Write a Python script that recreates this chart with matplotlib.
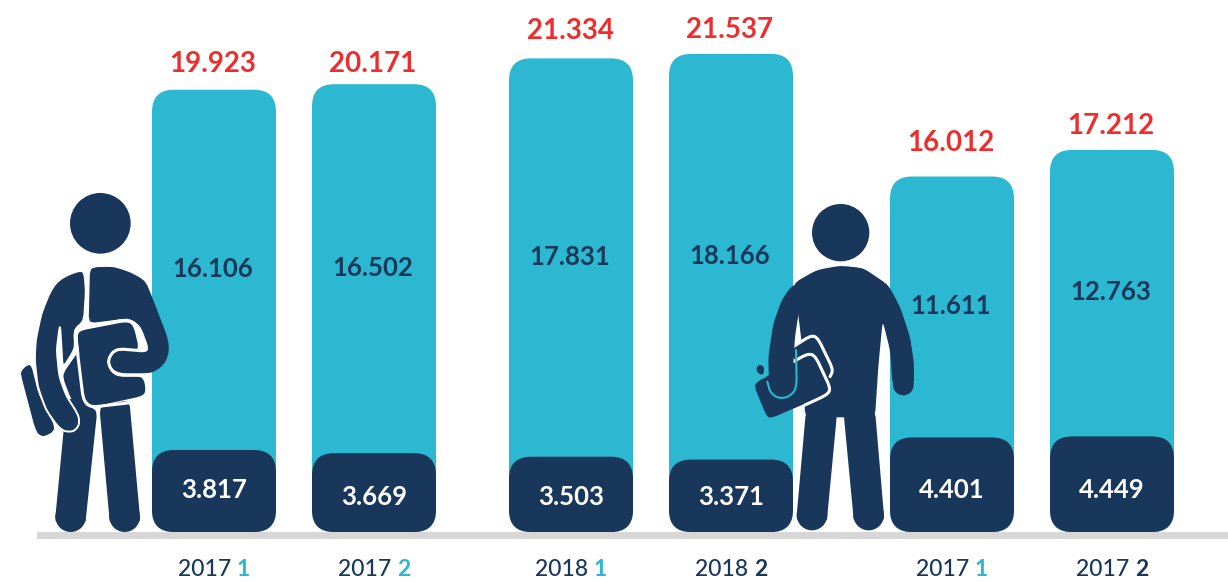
import matplotlib as mpl
mpl.use('Agg')
import matplotlib.pyplot as plt
from matplotlib.patches import FancyBboxPatch, Polygon, Circle
import math

plt.rcParams['font.family'] = ['Lato', 'DejaVu Sans']

years = ['2017', '2017', '2018', '2018', '2017', '2017']
terms = ['1', '2', '1', '2', '1', '2']
totals = [19923, 20171, 21334, 21537, 16012, 17212]
upper = [16106, 16502, 17831, 18166, 11611, 12763]
lower = [3817, 3669, 3503, 3371, 4401, 4449]
total_labels = ['19.923', '20.171', '21.334', '21.537', '16.012', '17.212']
upper_labels = ['16.106', '16.502', '17.831', '18.166', '11.611', '12.763']
lower_labels = ['3.817', '3.669', '3.503', '3.371', '4.401', '4.449']

bar_left = [152, 312, 509, 669, 890, 1050]
term_teal = [True, True, True, False, True, False]
total_gap = [26, 20, 27, 24, 34, 24]  # px between bar top and red label
lower_lift = [42, 35, 35, 35, 42, 42]  # px of the white label above the base
bar_w = 124

TEAL = '#2BB8D0'
NAVY = '#19375A'
RED = '#EC2F2E'
GREY = '#D7D7D7'

W, H = 1228, 582
BASE = 532
PX = 0.0222  # pixels per unit for the big bars
LOW_SCALE = 0.968  # dark blocks are drawn a bit shorter in the original

fig = plt.figure(figsize=(W/100, H/100), dpi=100)
ax = fig.add_axes([0, 0, 1, 1])
ax.set_xlim(0, W)
ax.set_ylim(-(H-BASE)/PX, BASE/PX)
ax.axis('off')


def rounded(x, h, color, z):
    b = FancyBboxPatch((x, 0), bar_w, h,
                       boxstyle='round,pad=0,rounding_size=22',
                       mutation_aspect=1/PX, fc=color, ec='none', zorder=z)
    ax.add_patch(b)


for i in range(6):
    x = bar_left[i]
    cx = x + bar_w/2
    low = lower[i]*LOW_SCALE
    rounded(x, totals[i], TEAL, 2)
    rounded(x, low, NAVY, 3)
    ax.text(cx - 1, totals[i] + total_gap[i]/PX, total_labels[i], color=RED, fontsize=20,
            fontweight='bold', ha='center', va='center')
    ax.text(cx - 1, (totals[i]+low)/2 + 1/PX, upper_labels[i], color=NAVY, fontsize=18.5,
            fontweight='bold', ha='center', va='center')
    ax.text(cx, lower_lift[i]/PX, lower_labels[i], color='white', fontsize=18.5,
            fontweight='bold', ha='center', va='center')
    ax.text(cx + 17, -(570-BASE)/PX, years[i], color=NAVY, fontsize=16.5,
            fontweight='medium', ha='right', va='center')
    ax.text(cx + 23, -(570-BASE)/PX, terms[i], color=TEAL if term_teal[i] else NAVY,
            fontsize=16.5, fontweight='bold', ha='left', va='center')

# baseline
ax.fill_between([37, W], -7/PX, 0, color=GREY, lw=0, zorder=4)

# pixel overlay for the two figures
ov = fig.add_axes([0, 0, 1, 1])
ov.set_xlim(0, W)
ov.set_ylim(H, 0)
ov.axis('off')
ov.patch.set_alpha(0)


def soften(pts, closed=True, d=10, n=2):
    # cut each corner by a fixed distance so long edges stay long
    for _ in range(n):
        out = []
        m = len(pts)
        for k in range(m if closed else m-1):
            a = pts[k]
            b = pts[(k+1) % m]
            t = min(0.3, d/(math.dist(a, b)+0.01))
            out.append(((1-t)*a[0]+t*b[0], (1-t)*a[1]+t*b[1]))
            out.append((t*a[0]+(1-t)*b[0], t*a[1]+(1-t)*b[1]))
        if not closed:
            out = [pts[0]] + out + [pts[-1]]
        pts = out
    return pts


def shape(pts, off, z=5, ec='none', lw=0.0, fc=NAVY):
    xy = [(off[0]+p[0]/3, off[1]+p[1]/3) for p in soften(pts)]
    ov.add_patch(Polygon(xy, closed=True, fc=fc, ec=ec, lw=lw, joinstyle='round', zorder=z))


def dot(p, r, off, z=5):
    ov.add_patch(Circle((off[0]+p[0]/3, off[1]+p[1]/3), r/3, fc=NAVY, ec='none', zorder=z))


def line(pts, off, color, lw, z):
    pts = soften(pts, closed=False)
    ov.plot([off[0]+p[0]/3 for p in pts], [off[1]+p[1]/3 for p in pts], color=color,
            lw=lw, solid_capstyle='round', solid_joinstyle='round', zorder=z)


# left figure, zoom crop coords
o1 = (0, 180)
dot((301, 130), 91, o1)
shape([(62, 572), (92, 548), (115, 640), (168, 748), (140, 768), (118, 768), (105, 745), (64, 590)], o1)
# legs
shape([(200, 650), (292, 690), (258, 1012), (256, 1030), (168, 1030), (166, 1012), (190, 760)], o1)
dot((212, 1010), 46, o1)
shape([(298, 680), (388, 660), (420, 1012), (418, 1030), (330, 1030), (328, 1012)], o1)
dot((374, 1010), 46, o1)
# hip between the arm and the folder
shape([(186, 585), (238, 510), (262, 690), (238, 700), (210, 650)], o1)
# chest and right arm
shape([(270, 262), (340, 260), (392, 277), (436, 302), (452, 340), (502, 470), (508, 505), (502, 535),
       (488, 558), (462, 576), (440, 580), (360, 580), (332, 565), (322, 540), (332, 516), (355, 505),
       (445, 515), (410, 430), (385, 415), (266, 430)], o1)
# left arm with chest part, white halo
shape([(252, 268), (205, 283), (172, 303), (150, 335), (124, 400), (107, 480), (104, 540), (113, 620),
       (138, 690), (178, 746), (206, 758), (232, 748), (240, 720), (228, 692), (200, 650), (178, 590),
       (170, 510), (180, 432), (188, 566), (226, 505), (222, 448), (252, 425), (258, 330)], o1,
      z=6, ec='white', lw=1.4)
# folder
shape([(240, 452), (380, 425), (400, 435), (418, 510), (355, 508), (330, 530), (328, 555), (345, 582),
       (430, 590), (438, 632), (428, 648), (282, 680), (262, 668), (252, 650), (232, 465)], o1, z=7)
line([(432, 586), (350, 586), (326, 560), (326, 530), (350, 506), (445, 514), (418, 440), (385, 418),
      (240, 444), (226, 465), (250, 660), (270, 682), (392, 668)], o1, 'white', 2.2, 8)

# right figure
o2 = (740, 190)
dot((302, 128), 86, o2)
# torso
shape([(300, 227), (370, 234), (445, 285), (480, 350), (510, 440), (522, 520), (522, 590), (458, 590),
       (450, 480), (428, 392), (415, 530), (405, 682), (195, 682),
       (190, 500), (175, 375), (160, 280), (230, 240)], o2)
dot((490, 585), 31, o2)
# legs
shape([(198, 660), (290, 660), (290, 682), (262, 977), (260, 995), (172, 995), (170, 977)], o2)
dot((216, 975), 46, o2)
shape([(312, 660), (405, 660), (432, 977), (430, 995), (342, 995), (340, 977), (312, 682)], o2)
dot((386, 975), 46, o2)
# folder
shape([(150, 480), (215, 437), (232, 445), (278, 540), (270, 558), (200, 590)], o2, z=6)
shape([(40, 582), (205, 490), (225, 498), (270, 595), (262, 612), (95, 684), (80, 680)], o2, z=7)
shape([(45, 532), (68, 520), (75, 550), (58, 556)], o2, z=7)
line([(160, 470), (215, 435), (234, 445), (280, 540), (270, 560)], o2, 'white', 2.2, 7)
line([(160, 515), (205, 490), (226, 498), (272, 596), (262, 614), (195, 645)], o2, 'white', 2.2, 8)
# arm over the folder
shape([(160, 280), (125, 330), (100, 400), (85, 500), (87, 590), (163, 590), (160, 520), (165, 440),
       (175, 375), (195, 300)], o2, z=8)
dot((125, 585), 38, o2, z=8)
line([(82, 575), (92, 612), (125, 628), (160, 612), (170, 585), (168, 480)], o2, TEAL, 1.5, 8)

fig.savefig('out.png', dpi=100)
